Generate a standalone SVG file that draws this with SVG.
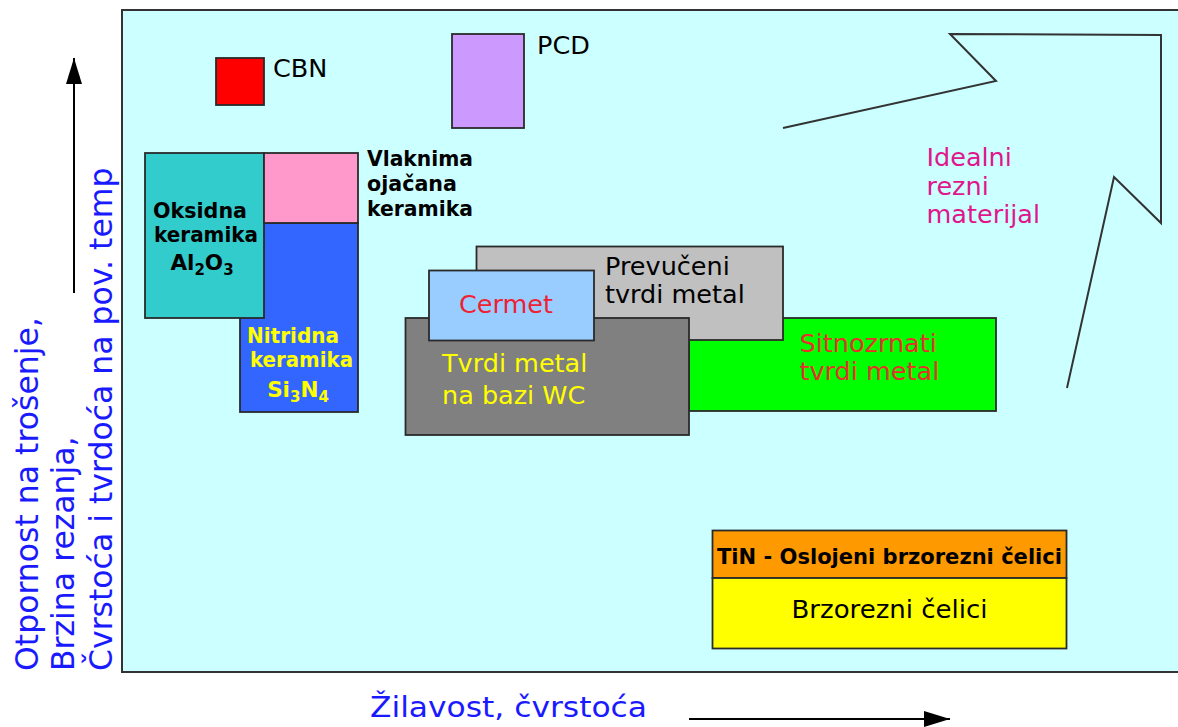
<svg xmlns="http://www.w3.org/2000/svg" width="1178" height="727" viewBox="0 0 1178 727">
<defs>
<style>
.box{stroke:#2a2a2a;stroke-width:1.8}
.t{font-family:"DejaVu Sans","Liberation Sans",sans-serif;font-size:25.5px}
.b{font-family:"DejaVu Sans","Liberation Sans",sans-serif;font-size:21.5px;font-weight:bold}
.ax{font-family:"DejaVu Sans","Liberation Sans",sans-serif;fill:#1a1aff}
.ln{fill:none;stroke:#000;stroke-width:2}
</style>
<marker id="ah" viewBox="0 0 26 16" refX="26" refY="8" markerWidth="26" markerHeight="16" markerUnits="userSpaceOnUse" orient="auto">
<path d="M0,0 L26,8 L0,16 Z" fill="#000"/>
</marker>
</defs>
<rect width="1178" height="727" fill="#fff"/>
<g id="plot-area"><rect x="122" y="10" width="1070" height="662" fill="#CCFFFF" stroke="#333" stroke-width="2"/></g>

<g id="connectors">
<line class="ln" x1="74" y1="293" x2="74" y2="58" marker-end="url(#ah)"/>
<line class="ln" x1="689" y1="719" x2="950" y2="719" marker-end="url(#ah)"/>
<polyline points="783,128 996,81 950,34 1161,35 1161,223 1114,177 1067,388" fill="none" stroke="#333" stroke-width="2"/>
</g>

<g id="axis-y">
<text class="ax" font-size="31.5" transform="translate(37.5,671) rotate(-90)">Otpornost na trošenje,</text>
<text class="ax" font-size="31.5" transform="translate(73.5,671) rotate(-90)">Brzina rezanja,</text>
<text class="ax" font-size="31.5" transform="translate(112,671) rotate(-90)">Čvrstoća i tvrdoća na pov. temp</text>
</g>
<g id="axis-x"><text class="ax" font-size="29" x="370" y="717" textLength="277" lengthAdjust="spacingAndGlyphs">Žilavost, čvrstoća</text></g>

<g id="cbn"><rect class="box" x="216" y="58" width="48" height="47" fill="#FF0000"/><text class="t" x="273" y="77">CBN</text></g>
<g id="pcd"><rect class="box" x="452" y="34" width="72" height="94" fill="#CC99FF"/><text class="t" x="537" y="54">PCD</text></g>

<g id="nitridna"><rect class="box" x="240" y="223" width="118" height="189" fill="#3366FF"/>
<text class="b" fill="#FFFF00"><tspan x="247" y="342.5" textLength="92" lengthAdjust="spacingAndGlyphs">Nitridna</tspan><tspan x="250" y="366.5" textLength="103" lengthAdjust="spacingAndGlyphs">keramika</tspan></text>
<text class="b" fill="#FFFF00" text-anchor="middle" x="298" y="396.5">Si<tspan font-size="15" dy="5">3</tspan><tspan dy="-5">N</tspan><tspan font-size="15" dy="5">4</tspan></text></g>
<g id="oksidna"><rect class="box" x="145" y="153" width="119" height="165" fill="#33CCCC"/>
<text class="b" fill="#000"><tspan x="153" y="218" textLength="94" lengthAdjust="spacingAndGlyphs">Oksidna</tspan><tspan x="154" y="241.5" textLength="104" lengthAdjust="spacingAndGlyphs">keramika</tspan></text>
<text class="b" fill="#000" text-anchor="middle" x="202" y="270">Al<tspan font-size="15" dy="5">2</tspan><tspan dy="-5">O</tspan><tspan font-size="15" dy="5">3</tspan></text></g>
<g id="vlaknima"><rect class="box" x="264" y="153" width="94" height="70" fill="#FF99CC"/>
<text class="b" fill="#000"><tspan x="367" y="166" textLength="106" lengthAdjust="spacingAndGlyphs">Vlaknima</tspan><tspan x="367" y="190.5" textLength="90" lengthAdjust="spacingAndGlyphs">ojačana</tspan><tspan x="367" y="216" textLength="106" lengthAdjust="spacingAndGlyphs">keramika</tspan></text></g>

<g id="sitnozrnati"><rect class="box" x="689" y="318" width="307" height="93" fill="#00FF00"/>
<text class="t" fill="#E8302A"><tspan x="799.5" y="352">Sitnozrnati</tspan><tspan x="799.5" y="380">tvrdi metal</tspan></text></g>
<g id="prevuceni"><rect class="box" x="476.5" y="246.5" width="306.5" height="93.5" fill="#C0C0C0"/>
<text class="t" fill="#000" font-size="25"><tspan x="605" y="274.5">Prevučeni</tspan><tspan x="605" y="302.5">tvrdi metal</tspan></text></g>
<g id="tvrdi-metal"><rect class="box" x="405.5" y="318" width="283.5" height="117" fill="#808080"/>
<text class="t" fill="#FFFF00"><tspan x="442" y="372">Tvrdi metal</tspan><tspan x="442" y="403.5">na bazi WC</tspan></text></g>
<g id="cermet"><rect class="box" x="429" y="270.5" width="165" height="70" fill="#99CCFF"/>
<text class="t" fill="#EE2233" x="459" y="313">Cermet</text></g>

<g id="idealni"><text class="t" fill="#E0168C"><tspan x="926.5" y="166">Idealni</tspan><tspan x="926.5" y="194.5">rezni</tspan><tspan x="926.5" y="222.5">materijal</tspan></text></g>

<g id="tin"><rect class="box" x="712.5" y="530.5" width="354" height="47.5" fill="#FF9900"/>
<text class="b" fill="#000" font-size="21" x="717" y="563.5" textLength="345" lengthAdjust="spacingAndGlyphs">TiN - Oslojeni brzorezni čelici</text></g>
<g id="brzorezni"><rect class="box" x="712.5" y="578" width="354" height="70.5" fill="#FFFF00"/>
<text class="t" fill="#000" font-size="24.5" x="791.5" y="617.5" textLength="196" lengthAdjust="spacingAndGlyphs">Brzorezni čelici</text></g>
</svg>
